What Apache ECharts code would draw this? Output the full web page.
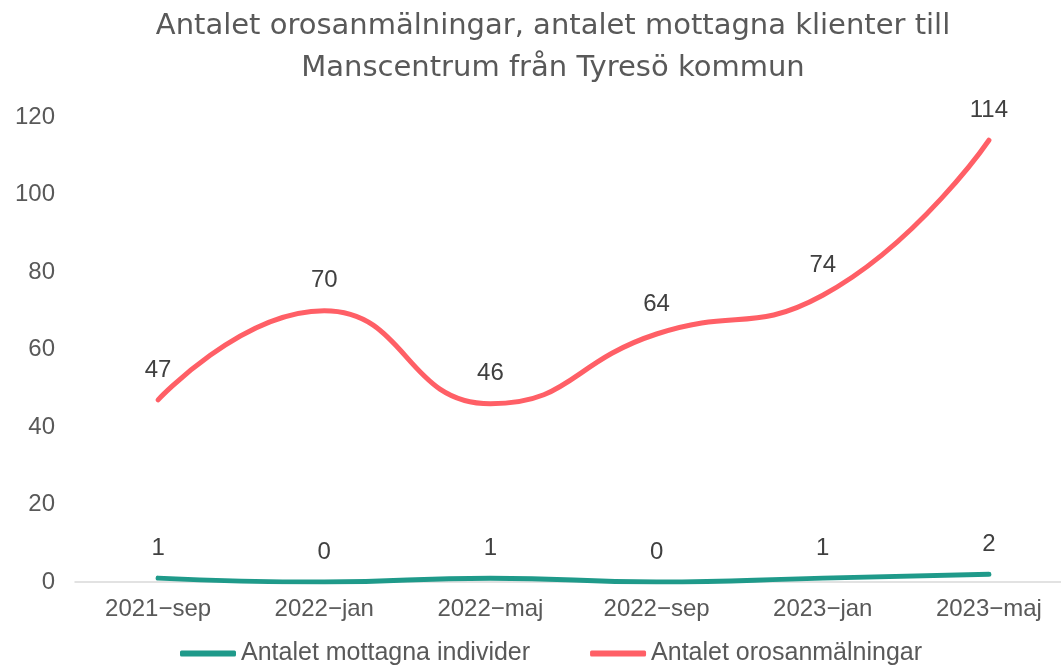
<!DOCTYPE html>
<html><head><meta charset="utf-8">
<script src="https://cdn.jsdelivr.net/npm/echarts@6/dist/echarts.min.js"></script>
<style>html,body{margin:0;padding:0;background:#fff}#c{width:1061px;height:669px}</style>
</head><body><div id="c"></div>
<script>
const categories = ['2021−sep','2022−jan','2022−maj','2022−sep','2023−jan','2023−maj'];
const mottagna = [1, 0, 1, 0, 1, 2];
const orosanmalningar = [47, 70, 46, 64, 74, 114];
const seriesNames = ['Antalet mottagna individer','Antalet orosanmälningar'];
const titleText = 'Antalet orosanmälningar, antalet mottagna klienter till\nManscentrum från Tyresö kommun';
const FONT = 'Liberation Sans';
const chart = echarts.init(document.getElementById('c'));
const labelCfg = {show: true, position: 'top', distance: 18, fontFamily: FONT, fontSize: 24, color: '#404040'};
chart.setOption({
  animation: false,
  textStyle: {fontFamily: FONT},
  title: {text: titleText, left: 548, textAlign: 'center', top: 0,
    textStyle: {fontFamily: 'DejaVu Sans', fontSize: 29, fontWeight: 'normal', color: '#595959', lineHeight: 42}},
  legend: {bottom: -2, left: 175, itemWidth: 56, itemHeight: 6, itemGap: 60,
    textStyle: {fontFamily: FONT, fontSize: 25, color: '#595959'},
    icon: 'roundRect'},
  grid: {left: 75, width: 997, top: 117, bottom: 87, outerBoundsMode: 'none', containLabel: false},
  xAxis: {type: 'category', data: categories, boundaryGap: true,
    axisLine: {lineStyle: {color: '#d9d9d9', width: 1.5}},
    axisTick: {show: false},
    axisLabel: {fontFamily: FONT, fontSize: 24, color: '#595959', margin: 15}},
  yAxis: {type: 'value', min: 0, max: 120, interval: 20,
    axisLine: {show: false}, axisTick: {show: false}, splitLine: {show: false},
    axisLabel: {fontFamily: FONT, fontSize: 24, color: '#595959', margin: 20}},
  series: [
    {name: seriesNames[0], type: 'line', data: mottagna, smooth: 0.5,
     symbol: 'circle', symbolSize: 0, showSymbol: true,
     lineStyle: {color: '#1F9A8A', width: 5, cap: 'round'}, itemStyle: {color: '#1F9A8A'},
     label: labelCfg},
    {name: seriesNames[1], type: 'line', data: orosanmalningar, smooth: 0.5,
     symbol: 'circle', symbolSize: 0, showSymbol: true,
     lineStyle: {color: '#FF5F66', width: 5, cap: 'round'}, itemStyle: {color: '#FF5F66'},
     label: labelCfg}
  ]
});
</script></body></html>
